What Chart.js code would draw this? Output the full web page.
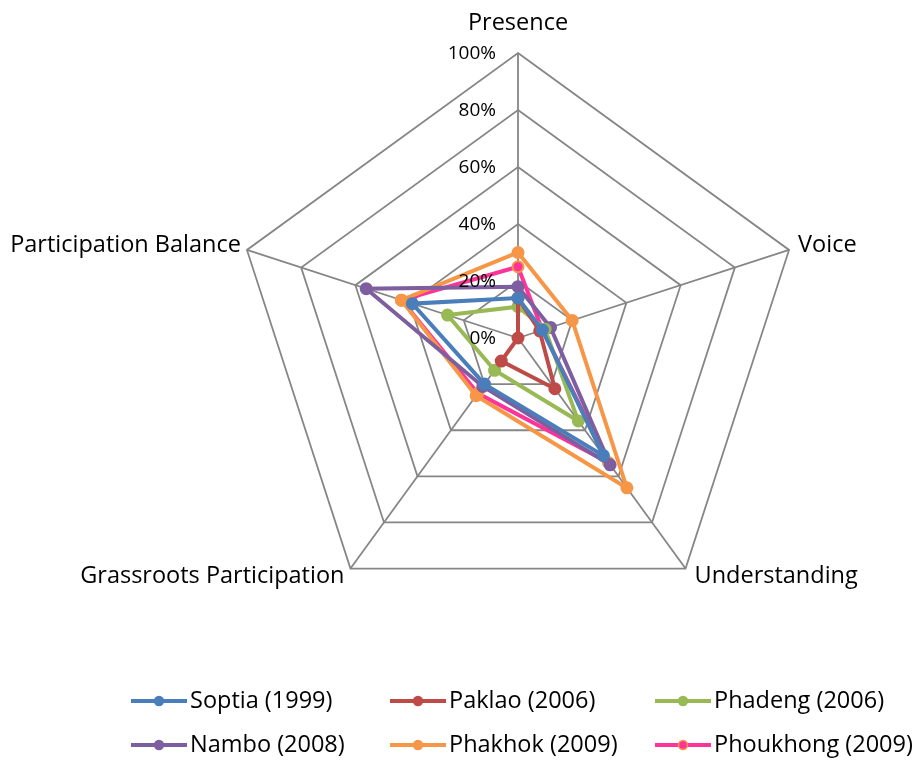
<!DOCTYPE html>
<html>
<head>
<meta charset="utf-8">
<script src="https://cdn.jsdelivr.net/npm/chart.js@4.4.0/dist/chart.umd.min.js"></script>
<style>
  html, body { margin: 0; padding: 0; background: #ffffff; }
  #wrap { position: relative; width: 916px; height: 763px; }
</style>
</head>
<body>
<div id="wrap"><canvas id="c" width="916" height="763"></canvas></div>
<script>
// ---- data ----
const categories = ['Presence', 'Voice', 'Understanding', 'Grassroots Participation', 'Participation Balance'];
const seriesNames = ['Soptia (1999)', 'Paklao (2006)', 'Phadeng (2006)', 'Nambo (2008)', 'Phakhok (2009)', 'Phoukhong (2009)'];
const soptia    = [14, 9, 51, 20, 39];
const paklao    = [14, 8, 22, 10, 0];
const phadeng   = [11, 10, 36, 14, 26];
const nambo     = [18, 12, 55, 21, 56];
const phakhok   = [30, 20, 65, 25, 43];
const phoukhong = [25, 9, 54, 24, 43];
const tickValues = [0, 20, 40, 60, 80, 100];
const tickLabels = ['0%', '20%', '40%', '60%', '80%', '100%'];

const seriesValues = [soptia, paklao, phadeng, nambo, phakhok, phoukhong];
const lineColors  = ['#4A7EBB', '#BE4B48', '#98B954', '#7D5FA0', '#F79646', '#FF3399'];
const pointFills  = ['#4A7EBB', '#BE4B48', '#98B954', '#7D5FA0', '#F79646', '#FF3399'];
const pointEdges  = ['#4A7EBB', '#BE4B48', '#98B954', '#7D5FA0', '#F79646', '#F79646'];

const FONT = "'Open Sans', sans-serif";

const datasets = seriesNames.map((name, i) => ({
  label: name,
  data: seriesValues[i],
  borderColor: lineColors[i],
  backgroundColor: 'rgba(0,0,0,0)',
  fill: false,
  borderWidth: 4,
  pointRadius: 5.5,
  pointBorderWidth: 2,
  pointBackgroundColor: pointFills[i],
  pointBorderColor: pointEdges[i],
  tension: 0
}));

const textPlugin = {
  id: 'textPlugin',
  afterDraw(chart) {
    const ctx = chart.ctx;
    const scale = chart.scales.r;
    ctx.save();
    // tick labels, left of the vertical axis
    ctx.fillStyle = '#000000';
    ctx.font = "19px " + FONT;
    ctx.textAlign = 'right';
    ctx.textBaseline = 'middle';
    tickValues.forEach((v, i) => {
      const d = scale.getDistanceFromCenterForValue(v);
      ctx.fillText(tickLabels[i], scale.xCenter - 22, scale.yCenter - d + 1);
    });
    // point labels
    ctx.font = "23.5px " + FONT;
    categories.forEach((lab, i) => {
      const p = scale.getPointPosition(i, scale.drawingArea);
      const dx = p.x - scale.xCenter;
      const dy = p.y - scale.yCenter;
      let x = p.x, y = p.y, align = 'center';
      if (Math.abs(dx) < 1) { y = p.y - 30; align = 'center'; }
      else if (dx > 0) { x = p.x + 9; align = 'left'; y = p.y + (dy < 0 ? -5 : 8); }
      else { x = p.x - 6; align = 'right'; y = p.y + (dy < 0 ? -5 : 8); }
      ctx.textAlign = align;
      ctx.fillText(lab, x, y);
    });
    // legend (3 columns x 2 rows)
    const colX = [131, 390, 655];
    const rowY = [701, 745];
    chart.data.datasets.forEach((ds, i) => {
      const x = colX[i % 3];
      const y = rowY[Math.floor(i / 3)];
      ctx.strokeStyle = ds.borderColor;
      ctx.lineWidth = 4;
      ctx.beginPath();
      ctx.moveTo(x, y);
      ctx.lineTo(x + 56, y);
      ctx.stroke();
      ctx.beginPath();
      ctx.arc(x + 28, y, 4.5, 0, Math.PI * 2);
      ctx.fillStyle = ds.pointBackgroundColor;
      ctx.fill();
      ctx.lineWidth = 1.5;
      ctx.strokeStyle = ds.pointBorderColor;
      ctx.stroke();
      ctx.fillStyle = '#000000';
      ctx.textAlign = 'left';
      ctx.textBaseline = 'middle';
      ctx.font = "23.5px " + FONT;
      ctx.fillText(ds.label, x + 59, y);
    });
    ctx.restore();
  }
};

new Chart(document.getElementById('c'), {
  type: 'radar',
  data: { labels: categories, datasets: datasets },
  options: {
    responsive: false,
    animation: false,
    events: [],
    layout: { padding: { left: 233, right: 113, top: 53, bottom: 140 } },
    plugins: { legend: { display: false }, tooltip: { enabled: false } },
    elements: { line: { tension: 0 } },
    scales: {
      r: {
        min: 0,
        max: 100,
        ticks: { display: false, stepSize: 20 },
        grid: { color: '#868686', lineWidth: 1.8 },
        angleLines: { color: '#868686', lineWidth: 1.8 },
        pointLabels: { display: false }
      }
    }
  },
  plugins: [textPlugin]
});
</script>
</body>
</html>
